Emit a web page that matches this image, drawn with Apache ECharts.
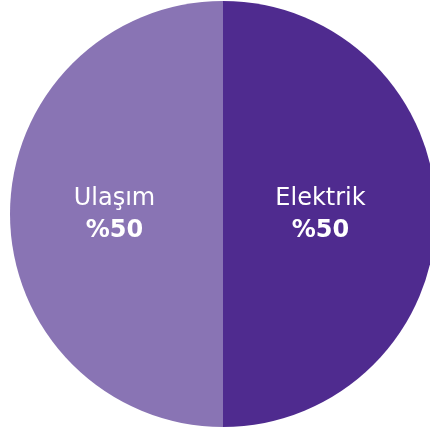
<!DOCTYPE html>
<html>
<head>
<meta charset="utf-8">
<script src="https://cdn.jsdelivr.net/npm/echarts@6/dist/echarts.min.js"></script>
<style>
html,body{margin:0;padding:0;background:#fff;}
#chart{width:430px;height:430px;}
</style>
</head>
<body>
<div id="chart"></div>
<script>
const categories = ['Elektrik', 'Ulaşım'];
const values = [50, 50];
const colors = ['#4f2b8f', '#8974b4'];

const chart = echarts.init(document.getElementById('chart'), null, {renderer: 'canvas'});
chart.setOption({
  animation: false,
  series: [{
    type: 'pie',
    center: [223, 214],
    radius: [0, 213],
    startAngle: 90,
    clockwise: true,
    data: categories.map((c, i) => ({name: c, value: values[i], itemStyle: {color: colors[i]}})),
    itemStyle: {borderWidth: 0},
    label: {
      show: true,
      position: 'inner',
      formatter: p => '{a|' + p.name + '}\n{b|%' + p.value + '}',
      rich: {
        a: {color: '#fff', fontSize: 24, fontFamily: 'DejaVu Sans', fontWeight: 'normal', lineHeight: 32},
        b: {color: '#fff', fontSize: 24, fontFamily: 'DejaVu Sans', fontWeight: 'bold', lineHeight: 32}
      }
    },
    labelLayout: function (p) {
      const cx = p.labelRect.x + p.labelRect.width / 2;
      return {dx: cx < 223 ? 1 : -12, dy: 1};
    },
    labelLine: {show: false},
    emphasis: {disabled: true}
  }]
});
</script>
</body>
</html>
